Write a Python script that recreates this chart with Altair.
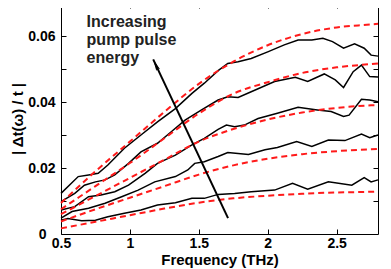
import altair as alt
import pandas as pd

# ---------------- data ----------------
F_RED = [0.5, 0.75, 1.0, 1.25, 1.5, 1.75, 2.0, 2.25, 2.5, 2.75, 2.8]
R1 = [0.0094, 0.019, 0.028, 0.037, 0.0455, 0.0522, 0.0572, 0.0606, 0.0626, 0.0635, 0.0637]
R2 = [0.0075, 0.0145, 0.0215, 0.029, 0.0365, 0.0425, 0.046, 0.0488, 0.0505, 0.0515, 0.0517]
R3 = [0.006, 0.0115, 0.017, 0.0225, 0.028, 0.0318, 0.0347, 0.0368, 0.0382, 0.039, 0.0391]
R4 = [0.0038, 0.0075, 0.011, 0.0145, 0.018, 0.0208, 0.0228, 0.0242, 0.0251, 0.0257, 0.0258]
R5 = [0.0017, 0.0037, 0.0057, 0.0077, 0.0095, 0.0108, 0.0116, 0.0122, 0.0126, 0.0128, 0.0129]

B1_F = [0.5, 0.625, 0.70, 0.77, 0.84, 0.96, 1.08, 1.2, 1.33, 1.45, 1.54, 1.64, 1.71, 1.785,
        1.88, 2.0, 2.12, 2.22, 2.32, 2.40, 2.47, 2.55, 2.63, 2.70, 2.75, 2.8]
B1_V = [0.0123, 0.0174, 0.0179, 0.0184, 0.0209, 0.026, 0.030, 0.034, 0.038, 0.0426, 0.0457,
        0.0495, 0.0517, 0.0522, 0.0532, 0.0552, 0.0573, 0.0588, 0.0588, 0.0593, 0.0583,
        0.0563, 0.0576, 0.0563, 0.0542, 0.0539]

B2_F = [0.5, 0.6, 0.67, 0.75, 0.82, 0.89, 0.99, 1.08, 1.2, 1.30, 1.40, 1.52, 1.64, 1.71,
        1.785, 1.88, 2.05, 2.2, 2.29, 2.41, 2.49, 2.55, 2.62, 2.68, 2.74, 2.8]
B2_V = [0.0098, 0.0123, 0.0148, 0.0158, 0.0164, 0.0179, 0.0214, 0.0249, 0.0275, 0.031,
        0.0345, 0.0376, 0.0406, 0.0416, 0.0414, 0.0431, 0.0462, 0.0475, 0.0462, 0.0485,
        0.0467, 0.0444, 0.0492, 0.0512, 0.0477, 0.0476]

B3_F = [0.5, 0.6, 0.7, 0.79, 0.89, 0.99, 1.11, 1.2, 1.33, 1.45, 1.54, 1.64, 1.70, 1.76,
        1.83, 1.93, 2.07, 2.22, 2.36, 2.46, 2.55, 2.59, 2.68, 2.74, 2.8]
B3_V = [0.0073, 0.0083, 0.0113, 0.0118, 0.0128, 0.0148, 0.0184, 0.0214, 0.0239, 0.027,
        0.029, 0.0317, 0.033, 0.0325, 0.033, 0.035, 0.0366, 0.0384, 0.0376, 0.0371,
        0.0356, 0.036, 0.0408, 0.0406, 0.0401]

B4_F = [0.5, 0.58, 0.7, 0.82, 0.94, 1.06, 1.18, 1.33, 1.42, 1.47, 1.54, 1.64, 1.71, 1.86,
        1.98, 2.07, 2.21, 2.32, 2.44, 2.56, 2.68, 2.74, 2.8]
B4_V = [0.0048, 0.0068, 0.0078, 0.0093, 0.0113, 0.0133, 0.0158, 0.0174, 0.0194, 0.0214,
        0.0219, 0.0235, 0.0247, 0.0241, 0.0255, 0.0262, 0.028, 0.0265, 0.0285, 0.0283,
        0.0303, 0.0292, 0.030]

B5_F = [0.5, 0.55, 0.65, 0.75, 0.84, 0.96, 1.08, 1.2, 1.33, 1.45, 1.54, 1.64, 1.76, 1.88,
        2.05, 2.18, 2.29, 2.44, 2.61, 2.70, 2.75, 2.8]
B5_V = [0.0042, 0.0047, 0.004, 0.0042, 0.0052, 0.0063, 0.0073, 0.0088, 0.0095, 0.0108,
        0.0108, 0.012, 0.0123, 0.0128, 0.0133, 0.0154, 0.0136, 0.0158, 0.0148, 0.0171,
        0.0158, 0.0164]

ARROW_F = [1.712, 1.169]
ARROW_V = [0.0048, 0.0529]
ANNOT = ["Increasing", "pump pulse", "energy"]

X_TICKS = [0.5, 1, 1.5, 2, 2.5]
Y_TICKS = [0, 0.02, 0.04, 0.06]
Y_MINOR = [0.01, 0.02, 0.03, 0.04, 0.05, 0.06]

# ---------------- tables ----------------
black_rows = []
for name, fs, vs in [("B1", B1_F, B1_V), ("B2", B2_F, B2_V), ("B3", B3_F, B3_V),
                     ("B4", B4_F, B4_V), ("B5", B5_F, B5_V)]:
    for i, (f, v) in enumerate(zip(fs, vs)):
        black_rows.append({"curve": name, "i": i, "f": f, "v": v})
black_df = pd.DataFrame(black_rows)

red_rows = []
for name, vs in [("R1", R1), ("R2", R2), ("R3", R3), ("R4", R4), ("R5", R5)]:
    for i, (f, v) in enumerate(zip(F_RED, vs)):
        red_rows.append({"curve": name, "i": i, "f": f, "v": v})
red_df = pd.DataFrame(red_rows)

arrow_df = pd.DataFrame({"f": ARROW_F, "v": ARROW_V, "i": [0, 1]})
head_df = arrow_df.iloc[[1]]
text_df = pd.DataFrame({"t": ["\n".join(ANNOT)]})

FONT = "Liberation Sans"
xs = alt.Scale(domain=[0.5, 2.8], nice=False, zero=False)
ys = alt.Scale(domain=[0, 0.07], nice=False, zero=False)

main_x = alt.Axis(orient="bottom", values=X_TICKS, labelExpr="format(datum.value, '~g')",
                  ticks=False, domain=False, grid=False, labelPadding=2, labelFlush=False,
                  title="Frequency (THz)", titlePadding=2)
main_y = alt.Axis(orient="left", values=Y_TICKS,
                  labelExpr="datum.value == 0 ? '0' : format(datum.value, '.2f')",
                  labelPadding={"condition": {"test": "datum.value == 0", "value": 15},
                                "value": 6},
                  ticks=False, domain=False, grid=False, labelFlush=False,
                  title="| Δt(ω) / t |", titlePadding=2)


def tick_axis(orient, values):
    return alt.Axis(orient=orient, values=values, offset=-5, tickSize=5, tickWidth=1,
                    tickColor="black", labels=False, domain=False, grid=False, title="")


black = alt.Chart(black_df).mark_line(color="black", strokeWidth=1.5).encode(
    x=alt.X("f:Q", scale=xs, axis=main_x),
    y=alt.Y("v:Q", scale=ys, axis=main_y),
    detail="curve:N", order="i:Q")

red = alt.Chart(red_df).mark_line(color="#ff1a1a", strokeWidth=2, strokeDash=[6, 4],
                                  interpolate="monotone").encode(
    x=alt.X("f:Q", scale=xs, axis=tick_axis("bottom", X_TICKS)),
    y=alt.Y("v:Q", scale=ys, axis=tick_axis("left", Y_MINOR)),
    detail="curve:N", order="i:Q")

arrow = alt.Chart(arrow_df).mark_line(color="black", strokeWidth=2).encode(
    x=alt.X("f:Q", scale=xs, axis=tick_axis("top", X_TICKS)),
    y=alt.Y("v:Q", scale=ys, axis=tick_axis("right", Y_MINOR)),
    order="i:Q")

head = alt.Chart(head_df).mark_point(
    shape="M0,0L0.32,1.8L0,1.5L-0.32,1.8Z", size=170, filled=True, color="black",
    opacity=1, angle=334.8).encode(
    x=alt.X("f:Q", scale=xs, axis=None),
    y=alt.Y("v:Q", scale=ys, axis=None))

text = alt.Chart(text_df).mark_text(
    align="left", baseline="alphabetic", font=FONT, fontSize=16, fontWeight="bold",
    color="#222222", lineBreak="\n", lineHeight=18).encode(
    x=alt.value(25.6), y=alt.value(24), text="t:N")

chart = alt.layer(black, red, arrow, head, text).resolve_axis(
    x="independent", y="independent"
).properties(
    width=317, height=231, autosize="none",
    padding={"left": 53, "top": -5, "right": 5, "bottom": 35}
).configure_view(stroke="black", strokeWidth=1).configure_axis(
    labelFont=FONT, labelFontSize=14, labelFontWeight="bold", labelColor="black",
    titleFont=FONT, titleFontSize=15, titleFontWeight="bold", titleColor="black"
)

chart.save("out.html", embed_options={"renderer": "svg", "actions": False})
